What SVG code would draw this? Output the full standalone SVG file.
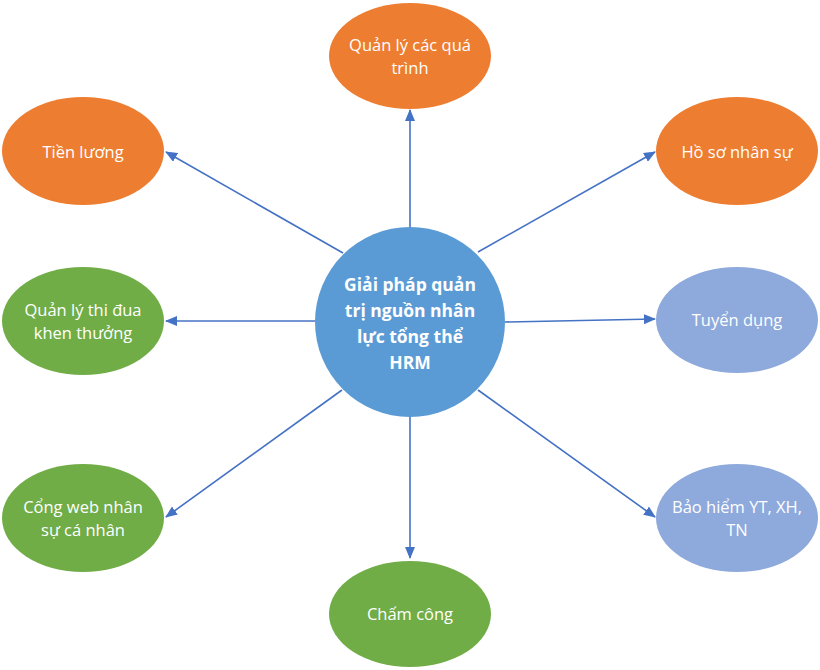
<svg xmlns="http://www.w3.org/2000/svg" width="820" height="670" viewBox="0 0 820 670">
<defs>
<marker id="arr" markerWidth="12" markerHeight="10" refX="11" refY="5" orient="auto" markerUnits="userSpaceOnUse">
<path d="M0,0 L12,5 L0,10 Z" fill="#4472C4"/>
</marker>
<style>
.orange{fill:#ED7D31}
.green{fill:#70AD47}
.purple{fill:#8EA9DB}
.center{fill:#5B9BD5}
.lbl{font-family:"Open Sans","Liberation Sans",sans-serif;font-size:16.5px;fill:#ffffff;text-anchor:middle}
.clbl{font-family:"Open Sans","Liberation Sans",sans-serif;font-size:17.5px;font-weight:bold;fill:#ffffff;text-anchor:middle}
.conn line{stroke:#4472C4;stroke-width:1.6;marker-end:url(#arr)}
</style>
</defs>
<rect width="820" height="670" fill="#ffffff"/>
<g class="conn" id="connectors">
<line x1="410" y1="227" x2="410" y2="110"/>
<line x1="343" y1="253" x2="166" y2="152"/>
<line x1="478" y1="252" x2="655" y2="152"/>
<line x1="315" y1="321" x2="166" y2="321"/>
<line x1="505" y1="322" x2="655" y2="319"/>
<line x1="342" y1="390" x2="166" y2="517"/>
<line x1="410" y1="417" x2="410" y2="558"/>
<line x1="478" y1="390" x2="655" y2="517"/>
</g>
<g id="n-top"><ellipse class="orange" cx="410" cy="56" rx="81" ry="53"/><text class="lbl" x="410" y="51">Quản lý các quá</text><text class="lbl" x="410" y="74">trình</text></g>
<g id="n-tienluong"><ellipse class="orange" cx="83" cy="151" rx="81" ry="54"/><text class="lbl" x="83" y="158">Tiền lương</text></g>
<g id="n-hoso"><ellipse class="orange" cx="737" cy="151" rx="81" ry="54"/><text class="lbl" x="737" y="158">Hồ sơ nhân sự</text></g>
<g id="n-thidua"><ellipse class="green" cx="83" cy="321" rx="81" ry="54"/><text class="lbl" x="83" y="316">Quản lý thi đua</text><text class="lbl" x="83" y="339">khen thưởng</text></g>
<g id="n-tuyendung"><ellipse class="purple" cx="737" cy="320" rx="81" ry="53"/><text class="lbl" x="737" y="326">Tuyển dụng</text></g>
<g id="n-congweb"><ellipse class="green" cx="83" cy="518" rx="81" ry="54"/><text class="lbl" x="83" y="513">Cổng web nhân</text><text class="lbl" x="83" y="536">sự cá nhân</text></g>
<g id="n-chamcong"><ellipse class="green" cx="410" cy="614" rx="81" ry="53"/><text class="lbl" x="410" y="620">Chấm công</text></g>
<g id="n-baohiem"><ellipse class="purple" cx="737" cy="518" rx="81" ry="54"/><text class="lbl" x="737" y="513">Bảo hiểm YT, XH,</text><text class="lbl" x="737" y="536">TN</text></g>
<g id="n-center"><circle class="center" cx="410" cy="322" r="95"/>
<text class="clbl" x="410" y="291">Giải pháp quản</text>
<text class="clbl" x="410" y="317">trị nguồn nhân</text>
<text class="clbl" x="410" y="343">lực tổng thể</text>
<text class="clbl" x="410" y="369">HRM</text>
</g>
</svg>
